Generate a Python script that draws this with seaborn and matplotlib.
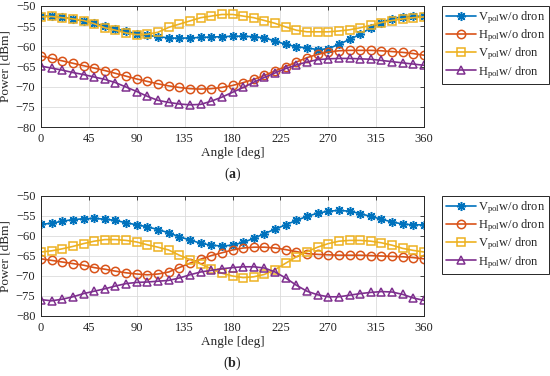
import numpy as np
import pandas as pd
import matplotlib
matplotlib.use("Agg")
import matplotlib.pyplot as plt
import seaborn as sns

angles = list(range(0, 361, 10))

top_v_wo = [-52.5, -52.5, -52.8, -53.2, -53.7, -54.3, -55.0, -55.6, -56.3, -56.9, -57.3, -57.6, -57.9,
            -58.0, -57.9, -57.8, -57.7, -57.6, -57.5, -57.5, -57.6, -57.9, -58.7, -59.5, -60.1, -60.4,
            -60.8, -60.6, -59.5, -58.3, -57.0, -55.4, -54.1, -53.1, -52.7, -52.6, -52.5]
top_h_wo = [-62.4, -63.0, -63.6, -64.2, -64.8, -65.4, -66.0, -66.7, -67.4, -68.1, -68.7, -69.3, -69.8,
            -70.2, -70.5, -70.6, -70.5, -70.2, -69.7, -69.0, -68.2, -67.2, -66.1, -65.0, -63.9, -62.8,
            -62.0, -61.4, -61.1, -61.0, -61.0, -61.0, -61.1, -61.3, -61.5, -61.8, -62.2]
top_v_w = [-52.7, -52.6, -52.9, -53.2, -53.6, -54.4, -55.4, -56.0, -56.7, -57.1, -57.0, -56.5, -55.3,
           -54.5, -53.7, -52.9, -52.5, -52.1, -52.1, -52.5, -52.9, -53.6, -54.3, -55.2, -56.0, -56.4,
           -56.4, -56.4, -56.2, -55.9, -55.4, -54.8, -54.1, -53.6, -53.2, -52.9, -52.7]
top_h_w = [-64.9, -65.4, -65.9, -66.5, -67.0, -67.6, -68.2, -69.0, -70.1, -71.2, -72.4, -73.4, -73.9,
           -74.3, -74.5, -74.4, -73.6, -72.6, -71.4, -70.2, -68.9, -67.7, -66.6, -65.5, -64.6, -63.9,
           -63.3, -63.1, -63.0, -63.0, -63.1, -63.2, -63.5, -63.8, -64.1, -64.4, -64.7]

bot_v_wo = [-57.1, -56.8, -56.3, -55.9, -55.7, -55.6, -55.8, -56.1, -56.7, -57.2, -57.7, -58.4, -59.2,
            -60.2, -61.0, -61.8, -62.3, -62.5, -62.3, -61.6, -60.6, -59.4, -58.3, -57.2, -56.1, -55.1,
            -54.3, -53.8, -53.6, -53.8, -54.4, -55.1, -55.8, -56.5, -57.0, -57.2, -57.2]
bot_h_wo = [-65.7, -66.1, -66.5, -66.9, -67.3, -67.9, -68.3, -68.8, -69.2, -69.5, -69.7, -69.5, -69.0,
            -67.9, -66.8, -65.8, -64.9, -64.2, -63.5, -63.0, -62.8, -62.8, -63.0, -63.4, -63.9, -64.4,
            -64.6, -64.7, -64.8, -64.8, -64.8, -64.9, -65.0, -65.1, -65.2, -65.4, -65.7]
bot_v_w = [-64.0, -63.7, -63.2, -62.6, -61.9, -61.3, -60.9, -60.9, -61.1, -61.5, -62.2, -62.8, -63.5,
           -64.8, -65.9, -67.0, -68.2, -69.3, -70.0, -70.4, -70.2, -69.6, -68.4, -66.8, -65.2, -63.9,
           -62.8, -61.9, -61.3, -61.1, -61.1, -61.3, -61.7, -62.3, -63.1, -63.6, -64.0]
bot_h_w = [-75.9, -76.2, -75.8, -75.2, -74.4, -73.8, -73.2, -72.5, -71.9, -71.6, -71.5, -71.3, -71.1,
           -70.5, -69.7, -69.0, -68.6, -68.2, -67.9, -67.7, -67.7, -68.0, -69.0, -70.5, -72.3, -73.8,
           -74.7, -75.2, -75.2, -74.8, -74.4, -74.1, -73.9, -74.0, -74.6, -75.5, -76.1]

labels = [r"$\mathregular{V_{pol}}$w/o dron", r"$\mathregular{H_{pol}}$w/o dron",
          r"$\mathregular{V_{pol}}$w/ dron", r"$\mathregular{H_{pol}}$w/ dron"]
x_ticks = [0, 45, 90, 135, 180, 225, 270, 315, 360]
y_ticks = [-80, -75, -70, -65, -60, -55, -50]

colors = ["#0072BD", "#D95319", "#EDB120", "#7E2F8E"]
markers = [(8, 2, 0), "o", "s", "^"]
msizes = [6.5, 6, 6, 6]

sns.set_theme(style="white")
plt.rcParams["font.family"] = ["Liberation Serif", "DejaVu Serif"]
plt.rcParams["mathtext.fontset"] = "custom"
plt.rcParams["mathtext.rm"] = "Liberation Serif"
plt.rcParams["mathtext.it"] = "Liberation Serif:italic"
plt.rcParams["mathtext.bf"] = "Liberation Serif:bold"

fig = plt.figure(figsize=(5.5, 3.76), dpi=100)
W, H = 550, 376

def make_axes(top_px, bot_px):
    l, r = 41, 424
    return fig.add_axes([l / W, 1 - bot_px / H, (r - l) / W, (bot_px - top_px) / H])

panels = [
    ([top_v_wo, top_h_wo, top_v_w, top_h_w], 6, 127, "a"),
    ([bot_v_wo, bot_h_wo, bot_v_w, bot_h_w], 196, 316, "b"),
]

for series, tpx, bpx, tag in panels:
    ax = make_axes(tpx, bpx)
    for vals, lab, c, m, ms in zip(series, labels, colors, markers, msizes):
        df = pd.DataFrame({"angle": angles, "power": vals})
        sns.lineplot(data=df, x="angle", y="power", ax=ax, color=c, marker=m, markersize=ms,
                     mfc="none", mec=c, mew=1.1, lw=1.2, label=lab)
    ax.set_xlim(0, 360)
    ax.set_ylim(-80, -50)
    ax.set_xticks(x_ticks)
    ax.set_yticks(y_ticks)
    ax.grid(True, color="#dcdcdc", lw=0.6)
    ax.tick_params(direction="in", top=True, right=True, length=3, width=0.6,
                   labelsize=9, colors="#262626", pad=4)
    for s in ax.spines.values():
        s.set_color("#262626")
        s.set_linewidth(0.7)
    ax.set_xlabel("Angle [deg]", fontsize=9.5, labelpad=2)
    ax.set_ylabel("Power [dBm]", fontsize=9.5, labelpad=3)
    ax.legend(loc="upper left", bbox_to_anchor=(442 / W, 1 - (tpx - 0.5) / H),
              bbox_transform=fig.transFigure, fontsize=9, frameon=True, fancybox=False,
              edgecolor="#262626", framealpha=1, handlelength=2.4, labelspacing=0.12,
              borderpad=0.3, handletextpad=0.15, borderaxespad=0)
    ax.get_legend().get_frame().set_linewidth(0.7)
    fig.text((41 + 424) / 2 / W, 1 - (bpx + 47) / H, "(" + r"$\mathbf{" + tag + "}$" + ")",
             ha="center", va="center", fontsize=10)

fig.savefig("out.png", dpi=100, facecolor="white")
